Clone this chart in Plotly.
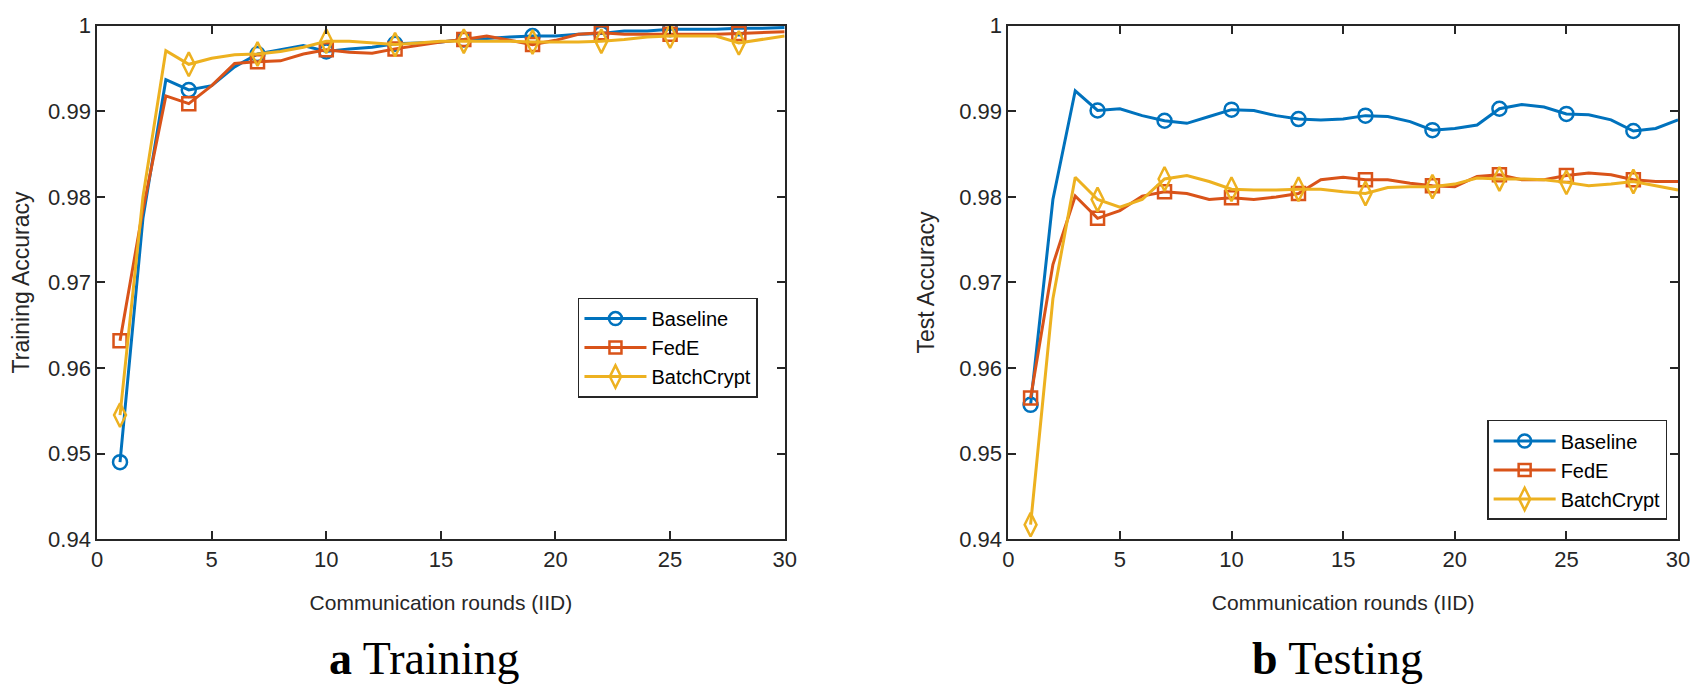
import plotly.graph_objects as go

rounds = list(range(1, 31))

# training accuracy (left panel)
baseline_train = [0.9490, 0.9775, 0.9937, 0.9925, 0.9930, 0.9952, 0.9967, 0.9972, 0.9977, 0.9970,
                  0.9973, 0.9975, 0.9979, 0.9980, 0.9981, 0.9984, 0.9985, 0.9987, 0.9988, 0.9988,
                  0.9990, 0.9991, 0.9994, 0.9994, 0.9996, 0.9996, 0.9996, 0.9997, 0.9997, 0.9998]
fede_train = [0.9632, 0.9785, 0.9918, 0.9909, 0.9930, 0.9956, 0.9958, 0.9959, 0.9967, 0.9972,
              0.9969, 0.9968, 0.9973, 0.9977, 0.9981, 0.9984, 0.9988, 0.9983, 0.9978, 0.9983,
              0.9990, 0.9992, 0.9990, 0.9990, 0.9990, 0.9990, 0.9990, 0.9991, 0.9992, 0.9993]
batch_train = [0.9545, 0.9800, 0.9971, 0.9955, 0.9962, 0.9966, 0.9967, 0.9970, 0.9975, 0.9982,
               0.9982, 0.9980, 0.9978, 0.9980, 0.9982, 0.9982, 0.9982, 0.9982, 0.9981, 0.9981,
               0.9981, 0.9982, 0.9984, 0.9987, 0.9988, 0.9988, 0.9988, 0.9980, 0.9984, 0.9988]

# test accuracy (right panel)
baseline_test = [0.9557, 0.9797, 0.9924, 0.9901, 0.9903, 0.9895, 0.9889, 0.9886, 0.9894, 0.9902,
                 0.9901, 0.9895, 0.9891, 0.9890, 0.9891, 0.9895, 0.9894, 0.9888, 0.9878, 0.9880,
                 0.9884, 0.9903, 0.9908, 0.9905, 0.9897, 0.9896, 0.9890, 0.9877, 0.9880, 0.9890]
fede_test = [0.9565, 0.9721, 0.9801, 0.9775, 0.9784, 0.9801, 0.9806, 0.9804, 0.9797, 0.9799,
             0.9797, 0.9800, 0.9804, 0.9820, 0.9823, 0.9820, 0.9820, 0.9816, 0.9813, 0.9812,
             0.9824, 0.9826, 0.9820, 0.9820, 0.9825, 0.9828, 0.9826, 0.9820, 0.9818, 0.9818]
batch_test = [0.9417, 0.9681, 0.9823, 0.9797, 0.9788, 0.9797, 0.9821, 0.9825, 0.9818, 0.9809,
              0.9808, 0.9808, 0.9809, 0.9809, 0.9806, 0.9804, 0.9811, 0.9812, 0.9812, 0.9815,
              0.9822, 0.9821, 0.9821, 0.9820, 0.9817, 0.9813, 0.9815, 0.9818, 0.9813, 0.9808]

names = ['Baseline', 'FedE', 'BatchCrypt']
colors = ['#0072BD', '#D95319', '#EDB120']
symbols = ['circle-open', 'square-open', 'diamond-tall-open']
msizes = [14, 13, 17]

panels = [
    ('x', 'y', 'legend', [baseline_train, fede_train, batch_train]),
    ('x2', 'y2', 'legend2', [baseline_test, fede_test, batch_test]),
]

fig = go.Figure()

for xa, ya, leg, series in panels:
    for name, color, sym, ms, vals in zip(names, colors, symbols, msizes, series):
        # full line
        fig.add_trace(go.Scatter(x=rounds, y=vals, mode='lines', xaxis=xa, yaxis=ya,
                                 line=dict(color=color, width=3), showlegend=False,
                                 hoverinfo='skip'))
        # markers every 3 rounds
        fig.add_trace(go.Scatter(x=rounds[::3], y=vals[::3], mode='markers', xaxis=xa, yaxis=ya,
                                 marker=dict(symbol=sym, size=ms, color=color,
                                             line=dict(color=color, width=2.5)),
                                 showlegend=False, name=name))
        # legend entry
        fig.add_trace(go.Scatter(x=[None], y=[None], mode='lines+markers', xaxis=xa, yaxis=ya,
                                 name=name, legend=leg,
                                 line=dict(color=color, width=3),
                                 marker=dict(symbol=sym, size=ms - 1, color=color,
                                             line=dict(color=color, width=2.5))))

# page body keeps an 8px margin, so the figure is 16px smaller than the window
W, H = 1684, 680

axis_color = '#262626'
sans = 'Liberation Sans, Arial, sans-serif'
tick_font = dict(family=sans, size=22, color='#262626')
xtitle_font = dict(family=sans, size=21, color='#262626')
ytitle_font = dict(family=sans, size=23, color='#262626')

xcommon = dict(range=[0, 30], tickvals=[0, 5, 10, 15, 20, 25, 30], ticks='inside', ticklen=8,
               tickwidth=1.5, tickcolor=axis_color, showline=True, linecolor=axis_color,
               linewidth=1.5, mirror='ticks', showgrid=False, zeroline=False, tickfont=tick_font,
               ticklabeloverflow='allow',
               title=dict(text='Communication rounds (IID)', font=xtitle_font, standoff=24))
ycommon = dict(range=[0.94, 1.0], dtick=0.01, tick0=0.94, ticks='inside', ticklen=8,
               tickwidth=1.5, tickcolor=axis_color, showline=True, linecolor=axis_color,
               linewidth=1.5, mirror='ticks', showgrid=False, zeroline=False, tickfont=tick_font,
               ticklabeloverflow='allow')

ydom = [1 - 539 / H, 1 - 6 / H]
legend_font = dict(family=sans, size=20, color='#000000')

fig.update_layout(
    width=W, height=H,
    margin=dict(l=0, r=0, t=0, b=0),
    plot_bgcolor='white', paper_bgcolor='white',
    xaxis=dict(domain=[84 / W, 779 / W], anchor='y', **xcommon),
    yaxis=dict(domain=ydom, anchor='x',
               title=dict(text='Training Accuracy', font=ytitle_font, standoff=18), **ycommon),
    xaxis2=dict(domain=[1005 / W, 1682 / W], anchor='y2', **xcommon),
    yaxis2=dict(domain=ydom, anchor='x2',
                title=dict(text='Test Accuracy', font=ytitle_font, standoff=18), **ycommon),
    legend=dict(x=752 / W, y=1 - 392 / H, xanchor='right', yanchor='bottom',
                bgcolor='white', bordercolor=axis_color, borderwidth=1.5,
                font=legend_font, itemwidth=62, tracegroupgap=0),
    legend2=dict(x=1671 / W, y=1 - 519 / H, xanchor='right', yanchor='bottom',
                 bgcolor='white', bordercolor=axis_color, borderwidth=1.5,
                 font=legend_font, itemwidth=62, tracegroupgap=0),
)

# sub-figure captions
caption_font = dict(family='Liberation Serif, Times New Roman, serif', size=46, color='#000000')
fig.add_annotation(text='<b>a</b> Training', x=414 / W, y=1 - 663 / H, xref='paper',
                   yref='paper', xanchor='center', yanchor='middle', showarrow=False,
                   font=caption_font)
fig.add_annotation(text='<b>b</b> Testing', x=1338 / W, y=1 - 663 / H, xref='paper',
                   yref='paper', xanchor='center', yanchor='middle', showarrow=False,
                   font=caption_font)

fig.write_html("out.html")
